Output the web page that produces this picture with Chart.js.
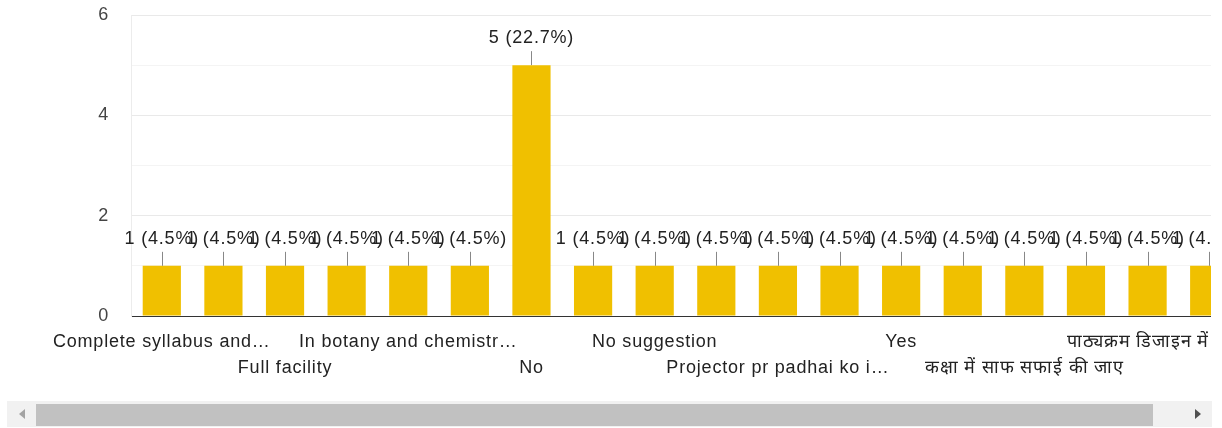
<!DOCTYPE html>
<html>
<head>
<meta charset="utf-8">
<script src="https://cdn.jsdelivr.net/npm/chart.js@4"></script>
<style>
  body { margin: 0; background: #fff; }
  #wrap { position: absolute; left: 0; top: 0; width: 1211px; height: 395px; overflow: hidden; }
  #track { position: absolute; left: 7px; top: 401px; width: 1205px; height: 26px; background: #f1f1f1; }
  #thumb { position: absolute; left: 36px; top: 404px; width: 1117px; height: 22px; background: #c1c1c1; }
  .arr { position: absolute; width: 0; height: 0; border-top: 5px solid transparent; border-bottom: 5px solid transparent; }
  #aleft { left: 19px; top: 409px; border-right: 6px solid #a3a3a3; }
  #aright { left: 1195px; top: 409px; border-left: 6px solid #505050; }
</style>
</head>
<body>
<div id="wrap"><canvas id="myChart" width="1240" height="395"></canvas></div>
<div id="track"></div>
<div id="thumb"></div>
<div class="arr" id="aleft"></div>
<div class="arr" id="aright"></div>
<script>
// answers, sorted the way the form summary shows them
var categories = [
  "Complete syllabus and…",
  "Discipline",
  "Full facility",
  "Good",
  "In botany and chemistr…",
  "Lab facility",
  "No",
  "No comments",
  "No suggestion",
  "Nothing",
  "Projector pr padhai ko i…",
  "Smart class",
  "Yes",
  "अच्छा है",
  "कक्षा में साफ सफाई की जाए",
  "कोई सुझाव नहीं",
  "पाठ्यक्रम डिजाइन में…",
  "समय पर कक्षाएं"
];
var counts = [1, 1, 1, 1, 1, 1, 5, 1, 1, 1, 1, 1, 1, 1, 1, 1, 1, 1];
var yTicks = [0, 2, 4, 6];

var total = counts.reduce(function (a, b) { return a + b; }, 0);

Chart.defaults.font.family = 'Arial, "Liberation Sans", sans-serif';
Chart.defaults.font.size = 18;
Chart.defaults.color = "#333";

var spacing = {
  id: "spacing",
  beforeLayout: function (chart) { chart.ctx.letterSpacing = "0.8px"; },
  beforeDraw: function (chart) { chart.ctx.letterSpacing = "0.8px"; }
};

var barLabels = {
  id: "barLabels",
  afterDatasetsDraw: function (chart) {
    var ctx = chart.ctx;
    var meta = chart.getDatasetMeta(0);
    ctx.save();
    ctx.letterSpacing = "0.8px";
    ctx.font = '18px Arial, "Liberation Sans", sans-serif';
    ctx.textAlign = "center";
    ctx.textBaseline = "middle";
    meta.data.forEach(function (bar, i) {
      var v = counts[i];
      var pct = (v / total * 100).toFixed(1);
      ctx.strokeStyle = "#888";
      ctx.lineWidth = 1;
      ctx.beginPath();
      ctx.moveTo(Math.round(bar.x) + 0.5, bar.y);
      ctx.lineTo(Math.round(bar.x) + 0.5, bar.y - 14);
      ctx.stroke();
      ctx.fillStyle = "#222";
      ctx.fillText(v + " (" + pct + "%)", bar.x, bar.y - 27);
    });
    ctx.restore();
  }
};

function createChart() {
  var ctx = document.getElementById("myChart").getContext("2d");
  var myBarChart = new Chart(ctx, {
    type: "bar",
    data: {
      labels: categories,
      datasets: [{
        data: counts,
        backgroundColor: "#f0c000",
        barPercentage: 0.62,
        categoryPercentage: 1
      }]
    },
    options: {
      responsive: false,
      animation: false,
      layout: { padding: { top: 15, left: 0, right: 0, bottom: 0 } },
      plugins: { legend: { display: false }, tooltip: { enabled: false } },
      scales: {
        x: {
          grid: { display: false },
          border: { color: "#333", width: 1 },
          afterFit: function (s) { s.height = 79; },
          ticks: {
            autoSkip: false,
            maxRotation: 0,
            minRotation: 0,
            padding: 5,
            color: "#222",
            font: { size: 18, lineHeight: 26 / 18 },
            callback: function (val, i) {
              if (i % 2 === 1) return "";
              if (i % 4 === 2) return ["", categories[i]];
              return categories[i];
            }
          }
        },
        y: {
          min: 0,
          max: 6,
          afterFit: function (s) {
            s.width = 131;
            s.paddingTop = 0;
            s.paddingBottom = 0;
          },
          border: { color: "#ececec" },
          grid: {
            drawTicks: false,
            color: function (c) {
              if (c.tick.value === 0) return "#333";
              return c.tick.value % 2 === 0 ? "#e9e9e9" : "#f4f4f4";
            }
          },
          ticks: {
            stepSize: 1,
            padding: 22,
            color: "#444",
            callback: function (val) {
              return yTicks.indexOf(val) >= 0 ? val : "";
            }
          }
        }
      }
    },
    plugins: [spacing, barLabels]
  });
  return myBarChart;
}

createChart();
</script>
</body>
</html>
